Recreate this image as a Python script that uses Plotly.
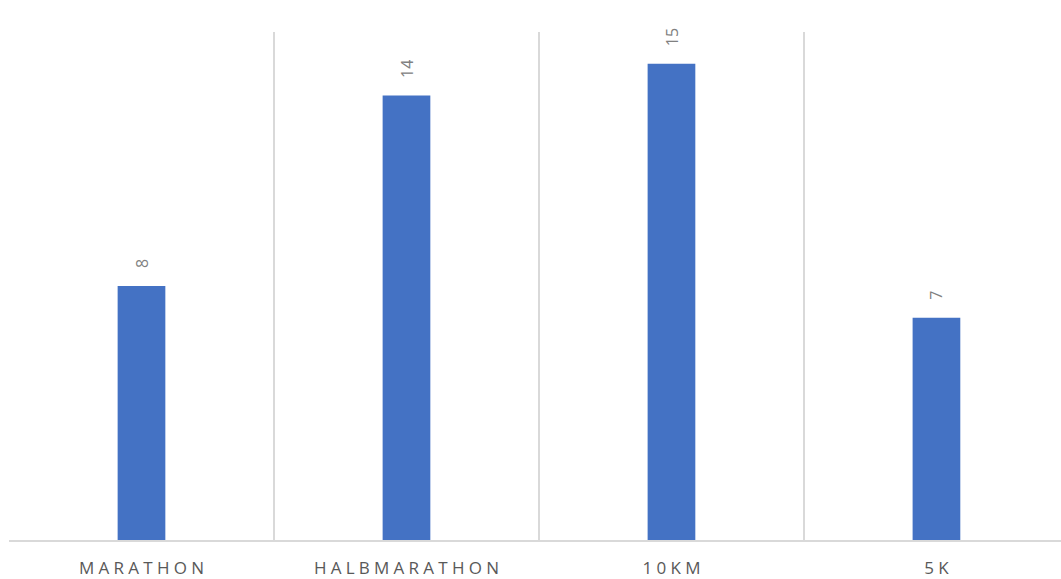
import plotly.graph_objects as go

categories = ["MARATHON", "HALBMARATHON", "10KM", "5K"]
values = [8, 14, 15, 7]

SP = "\u2005"
def spaced(s):
    return SP.join(list(s))

tick_text = [spaced(c) for c in categories]

fig = go.Figure()
fig.add_trace(go.Bar(
    x=categories, y=values, width=0.18,
    marker=dict(color="#4472C4", line=dict(width=0)),
    hoverinfo="skip",
))

for c, v in zip(categories, values):
    fig.add_annotation(
        x=c, y=v, text=str(v), textangle=-90, showarrow=False,
        yanchor="bottom", xanchor="center", yshift=16,
        font=dict(family="Open Sans", size=16, color="#808080"),
    )

fig.update_layout(
    width=1061, height=579,
    margin=dict(l=9, r=0, t=32, b=39),
    plot_bgcolor="white", paper_bgcolor="white",
    showlegend=False,
    xaxis=dict(
        type="category", tickson="boundaries",
        tickvals=categories, ticktext=tick_text,
        range=[-0.5, 3.47],
        showgrid=True, gridcolor="#d9d9d9", gridwidth=1.5,
        showline=True, linecolor="#d9d9d9", linewidth=1.5,
        ticks="", ticklabelstandoff=12,
        tickfont=dict(family="Open Sans", size=17, color="#595959"),
        zeroline=False, automargin=False,
    ),
    yaxis=dict(
        range=[0, 16], showgrid=False, showticklabels=False,
        zeroline=False, showline=False, ticks="",
    ),
)

fig.write_html(
    "out.html",
    config={"displayModeBar": False, "staticPlot": True},
    post_script="document.body.style.margin='0';document.body.style.overflow='hidden';",
)
